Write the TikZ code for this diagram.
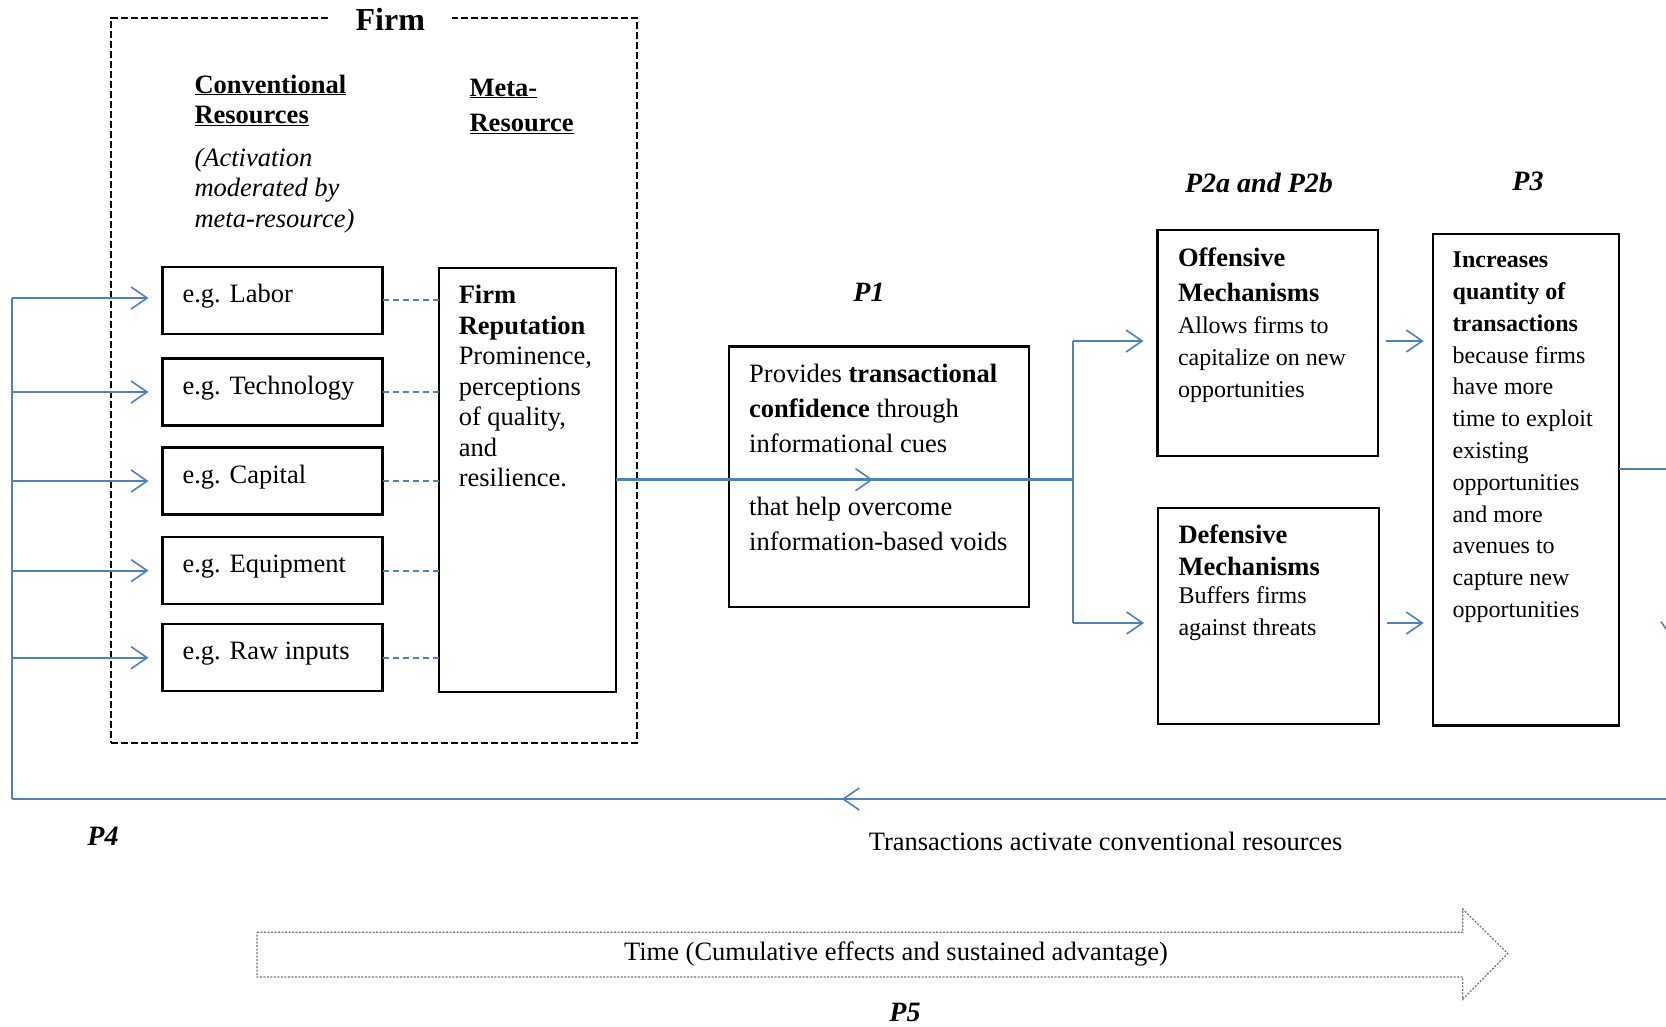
\documentclass[tikz,border=0pt]{standalone}
\usepackage{fontspec}
\setmainfont{Liberation Serif}
\usetikzlibrary{arrows.meta,decorations.markings}
\definecolor{bl}{RGB}{79,129,189}
\newcommand\fsA{\fontsize{26.5}{30.5}\selectfont}
\newcommand\fsB{\fontsize{24}{32.2}\selectfont}
\newcommand\fst{\rule{0pt}{20pt}}
\tikzset{
  every node/.style={inner sep=0pt, outer sep=0pt},
  ob/.tip={Straight Barb[length=16pt, width=22pt, line width=1.6pt]},
  blk/.style={draw=black, line width=2.2pt},
  conn/.style={draw, color=bl, line width=2pt},
  dconn/.style={draw, color=bl, line width=1.8pt, dash pattern=on 6pt off 4pt},
  midarr/.style={postaction={decorate}, decoration={markings, mark=at position #1 with {\arrow{ob}}}},
  firmbox/.style={draw=black, line width=2.4pt, dash pattern=on 7pt off 3pt},
  egt/.style={anchor=base west, font=\fsA},
  txt/.style={anchor=north west, align=left},
  plab/.style={font=\bfseries\itshape\fontsize{28}{32}\selectfont},
  tarr/.style={draw=black!55, line width=1.2pt, dash pattern=on 2pt off 1.5pt}
}
\begin{document}
\begin{tikzpicture}[x=1pt,y=-1pt]
\useasboundingbox (0,0) rectangle (1666,1026);
\clip (0,0) rectangle (1666,1026);

% Firm frame
\node[firmbox, minimum width=526pt, minimum height=724.7pt] (firm) at (374,380.35) {};
\node[fill=white, inner xsep=27pt, inner ysep=3pt, font=\bfseries\fontsize{32}{36}\selectfont] (firmt) at (390.3,19) {Firm};

% headings
\node[txt, font=\bfseries\fontsize{26.5}{30}\selectfont] (convh) at (194.5,73) {\fst\underline{Conventional}\\\underline{Resources}};
\node[txt, font=\bfseries\fontsize{26.5}{35}\selectfont] (metah) at (469.6,76) {\fst\underline{Meta-}\\\underline{Resource}};
\node[txt, font=\itshape\fontsize{26.5}{30.5}\selectfont] (acth) at (194.5,146) {\fst(Activation\\moderated by\\meta-resource)};

% conventional resource boxes
\node[blk, minimum width=220pt, minimum height=67pt] (lab) at (272.5,300.2) {};
\node[blk, minimum width=220pt, minimum height=67pt] (tec) at (272.5,392) {};
\node[blk, minimum width=220pt, minimum height=67pt] (cap) at (272.5,481) {};
\node[blk, minimum width=220pt, minimum height=67pt] (equ) at (272.5,570.6) {};
\node[blk, minimum width=220pt, minimum height=67pt] (raw) at (272.5,657.7) {};
\node[egt] (labt) at ([xshift=20pt,yshift=-2pt]lab.west) {e.g. Labor};
\node[egt] (tect) at ([xshift=20pt,yshift=-2pt]tec.west) {e.g. Technology};
\node[egt] (capt) at ([xshift=20pt,yshift=-2pt]cap.west) {e.g. Capital};
\node[egt] (equt) at ([xshift=20pt,yshift=-2pt]equ.west) {e.g. Equipment};
\node[egt] (rawt) at ([xshift=20pt,yshift=-2pt]raw.west) {e.g. Raw inputs};

% firm reputation
\node[blk, minimum width=177.5pt, minimum height=424pt] (fr) at (527.5,479.7) {};
\node[txt, font=\fsA] (frt) at ([xshift=20pt,yshift=-16pt]fr.north west)
  {\fst\textbf{Firm}\\\textbf{Reputation}\\Prominence,\\perceptions\\of quality,\\and\\resilience.};

% P1 box
\node[blk, minimum width=300.3pt, minimum height=260.3pt] (p1) at (878.85,476.55) {};
\node[txt, font=\fontsize{26.5}{35}\selectfont] (p1t) at ([xshift=20.5pt,yshift=-16pt]p1.north west)
  {\fst Provides \textbf{transactional}\\\textbf{confidence} through\\informational cues\\[28.5pt]that help overcome\\information-based voids};

% offensive / defensive
\node[blk, minimum width=220.5pt, minimum height=225.8pt] (off) at (1267.75,342.9) {};
\node[txt, font=\bfseries\fontsize{26.5}{34.5}\selectfont] (offh) at ([xshift=20.5pt,yshift=-16.5pt]off.north west) {\fst Offensive\\Mechanisms};
\node[txt, font=\fsB] (offt) at ([xshift=20.5pt,yshift=-83.3pt]off.north west) {\fst Allows firms to\\capitalize on new\\opportunities};

\node[blk, minimum width=221pt, minimum height=215.6pt] (def) at (1268.5,615.8) {};
\node[txt, font=\bfseries\fontsize{26.5}{32}\selectfont] (defh) at ([xshift=20.5pt,yshift=-15pt]def.north west) {\fst Defensive\\Mechanisms};
\node[txt, font=\fsB] (deft) at ([xshift=20.5pt,yshift=-75pt]def.north west) {\fst Buffers firms\\against threats};

% P3 box
\node[blk, minimum width=186.6pt, minimum height=491.5pt] (p3) at (1526,479.75) {};
\node[txt, font=\fontsize{24}{31.8}\selectfont] (p3t) at ([xshift=20pt,yshift=-13.7pt]p3.north west)
  {\fst\textbf{Increases}\\\textbf{quantity of}\\\textbf{transactions}\\because firms\\have more\\time to exploit\\existing\\opportunities\\and more\\avenues to\\capture new\\opportunities};

% proposition labels
\node[plab] (lp1) at (869,292) {P1};
\node[plab] (lp2) at (1259,182.5) {P2a and P2b};
\node[plab] (lp3) at (1528,181.5) {P3};
\node[plab] (lp4) at (103,836) {P4};
\node[plab] (lp5) at (905,1012.6) {P5};
\node[font=\fsA] (trans) at (1105.6,841.5) {Transactions activate conventional resources};

% connectors
\coordinate (j1) at (1073,479.7);
\coordinate (jt) at (1073,341);
\coordinate (jb) at (1073,623);
\draw[conn, line width=2.6pt, midarr=0.562] (fr.east) -- (j1);
\draw[conn] (jt) -- (jb);
\draw[conn, -ob, shorten >=14pt] (jt) -- (jt -| off.west);
\draw[conn, -ob, shorten >=14pt] (jb) -- (jb -| def.west);
\draw[conn, -ob, shorten <=7.5pt, shorten >=9pt] (jt -| off.east) -- (jt -| p3.west);
\draw[conn, -ob, shorten <=7.5pt, shorten >=9pt] (jb -| def.east) -- (jb -| p3.west);

\coordinate (p3o) at ([yshift=10.5pt]p3.east);
\coordinate (rt) at (1672,469.25);
\coordinate (rb) at (1672,799);
\coordinate (lb) at (11.7,799);
\coordinate (lt) at (11.7,298);
\draw[conn] (p3o) -- (rt);
\draw[conn, midarr=0.515] (rt) -- (rb);
\draw[conn, midarr=0.5] (rb) -- (lb);
\draw[conn] (lb) -- (lt);
\draw[conn, -ob, shorten >=14pt] (lt) -- (lt -| lab.west);
\draw[conn, -ob, shorten >=14pt] (tec.west -| lt) -- (tec.west);
\draw[conn, -ob, shorten >=14pt] (cap.west -| lt) -- (cap.west);
\draw[conn, -ob, shorten >=14pt] (equ.west -| lt) -- (equ.west);
\draw[conn, -ob, shorten >=14pt] (raw.west -| lt) -- (raw.west);

\draw[dconn] (lab.east) -- (lab.east -| fr.west);
\draw[dconn] (tec.east) -- (tec.east -| fr.west);
\draw[dconn] (cap.east) -- (cap.east -| fr.west);
\draw[dconn] (equ.east) -- (equ.east -| fr.west);
\draw[dconn] (raw.east) -- (raw.east -| fr.west);

% time arrow
\draw[tarr] (257,932.3) -- (1462.7,932.3) -- (1462.7,909) -- (1507.7,953.5) -- (1462.7,999.3) -- (1462.7,977) -- (257,977) -- cycle;
\node[font=\fsA] (time) at (896,954) {Time (Cumulative effects and sustained advantage)};
\end{tikzpicture}
\end{document}
